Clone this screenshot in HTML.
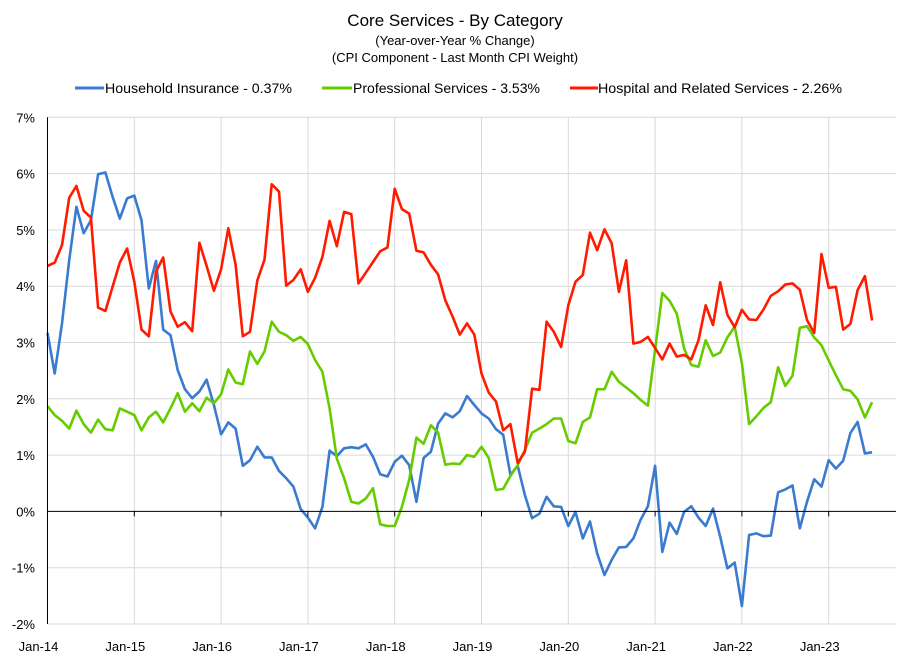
<!DOCTYPE html>
<html><head><meta charset="utf-8"><style>
body{margin:0;background:#fff;font-family:"Liberation Sans",sans-serif}
svg{display:block}
</style></head><body>
<svg id="chart" width="910" height="661">
<text x="455" y="26" text-anchor="middle" font-size="17">Core Services  - By Category</text>
<text x="455" y="45" text-anchor="middle" font-size="13">(Year-over-Year % Change)</text>
<text x="455" y="62" text-anchor="middle" font-size="13">(CPI Component - Last Month CPI Weight)</text>
<g id="grid"></g><g id="series"></g><g id="axes"></g>
<g>
<line x1="75" y1="88" x2="104" y2="88" stroke="#3a7bd0" stroke-width="3"/>
<text x="105" y="93" font-size="14" textLength="187" lengthAdjust="spacingAndGlyphs">Household Insurance - 0.37%</text>
<line x1="322" y1="88" x2="352" y2="88" stroke="#66cc00" stroke-width="3"/>
<text x="353" y="93" font-size="14" textLength="187" lengthAdjust="spacingAndGlyphs">Professional Services - 3.53%</text>
<line x1="570" y1="88" x2="598" y2="88" stroke="#ff1a00" stroke-width="3"/>
<text x="598" y="93" font-size="14" textLength="244" lengthAdjust="spacingAndGlyphs">Hospital and Related Services - 2.26%</text>
</g>
</svg>
<script>
const yTicks=[7,6,5,4,3,2,1,0,-1,-2];
const yearLabels=["Jan-14","Jan-15","Jan-16","Jan-17","Jan-18","Jan-19","Jan-20","Jan-21","Jan-22","Jan-23"];
const householdInsurance=[3.17,2.45,3.34,4.46,5.41,4.94,5.17,5.99,6.02,5.59,5.20,5.56,5.61,5.17,3.96,4.45,3.23,3.13,2.51,2.17,2.01,2.13,2.34,1.89,1.37,1.58,1.47,0.81,0.91,1.15,0.96,0.96,0.72,0.59,0.44,0.04,-0.11,-0.30,0.08,1.08,0.98,1.12,1.14,1.12,1.19,0.97,0.66,0.62,0.88,0.99,0.82,0.17,0.95,1.06,1.56,1.74,1.67,1.78,2.05,1.89,1.74,1.65,1.46,1.36,0.65,0.81,0.29,-0.12,-0.04,0.26,0.09,0.08,-0.26,-0.01,-0.48,-0.18,-0.75,-1.13,-0.86,-0.64,-0.63,-0.48,-0.15,0.09,0.81,-0.72,-0.20,-0.40,-0.01,0.09,-0.11,-0.26,0.05,-0.45,-1.01,-0.91,-1.68,-0.42,-0.39,-0.44,-0.43,0.34,0.39,0.46,-0.30,0.17,0.57,0.44,0.91,0.76,0.90,1.39,1.59,1.03,1.05];
const professionalServices=[1.87,1.71,1.61,1.47,1.79,1.55,1.40,1.63,1.46,1.44,1.83,1.77,1.71,1.44,1.67,1.77,1.58,1.83,2.10,1.77,1.92,1.78,2.02,1.92,2.08,2.52,2.29,2.26,2.84,2.62,2.84,3.37,3.19,3.13,3.03,3.10,2.97,2.69,2.48,1.83,0.94,0.59,0.17,0.14,0.23,0.41,-0.23,-0.26,-0.26,0.08,0.56,1.31,1.20,1.53,1.40,0.83,0.85,0.84,1.00,0.97,1.15,0.95,0.38,0.40,0.63,0.82,1.09,1.40,1.47,1.55,1.65,1.65,1.25,1.21,1.59,1.67,2.17,2.17,2.48,2.30,2.20,2.10,1.98,1.88,2.87,3.88,3.74,3.51,2.90,2.60,2.57,3.04,2.76,2.82,3.09,3.28,2.63,1.55,1.69,1.84,1.94,2.56,2.23,2.41,3.26,3.29,3.09,2.95,2.68,2.42,2.17,2.14,1.99,1.67,1.94];
const hospitalServices=[4.36,4.42,4.73,5.57,5.78,5.34,5.22,3.62,3.56,3.99,4.42,4.67,4.08,3.23,3.11,4.26,4.51,3.55,3.28,3.36,3.20,4.77,4.36,3.92,4.30,5.03,4.38,3.11,3.19,4.10,4.47,5.81,5.68,4.01,4.11,4.30,3.90,4.15,4.52,5.16,4.71,5.32,5.28,4.05,4.24,4.43,4.62,4.69,5.73,5.37,5.29,4.63,4.60,4.38,4.21,3.75,3.46,3.14,3.34,3.14,2.45,2.11,1.95,1.44,1.55,0.86,1.06,2.18,2.16,3.37,3.19,2.92,3.66,4.08,4.20,4.95,4.64,5.01,4.76,3.90,4.46,2.98,3.01,3.10,2.90,2.70,2.98,2.75,2.78,2.70,3.04,3.66,3.31,4.07,3.49,3.27,3.58,3.41,3.40,3.59,3.83,3.91,4.03,4.05,3.94,3.40,3.17,4.57,3.97,3.99,3.23,3.33,3.93,4.18,3.39];

const NS="http://www.w3.org/2000/svg";
const X0=47.5,MSTEP=86.8/12,XR=896,Y7=117.3,PER=56.3;
const xs=i=>X0+MSTEP*i;
const ys=v=>Y7+(7-v)*PER;
function mk(tag,attrs,parent){const e=document.createElementNS(NS,tag);for(const k in attrs)e.setAttribute(k,attrs[k]);parent.appendChild(e);return e;}
const grid=document.getElementById('grid'),axes=document.getElementById('axes'),ser=document.getElementById('series');
yTicks.forEach(t=>{
  const y=ys(t);
  if(t!==0){const l=mk('line',{x1:X0,x2:XR,y1:y,y2:y,stroke:'#d9d9d9','stroke-width':1},grid);
  
  }
  const tx=mk('text',{x:35,y:y+5,'text-anchor':'end','font-size':13},axes);
  tx.textContent=t+'%';
  
  
});
yearLabels.forEach((lab,k)=>{
  const x=xs(k*12);
  if(k>0){const l=mk('line',{x1:x,x2:x,y1:Y7,y2:ys(-2),stroke:'#d9d9d9','stroke-width':1},grid);
  
  }
  mk('line',{x1:x,x2:x,y1:ys(0),y2:ys(0)+5,stroke:'#000'},axes);
  const tx=mk('text',{x:x-9,y:651,'text-anchor':'middle','font-size':13},axes);
  tx.textContent=lab;
  
  
});
mk('line',{x1:X0,x2:X0,y1:Y7,y2:ys(-2),stroke:'#000'},axes);
const zl=mk('line',{x1:X0,x2:XR,y1:ys(0),y2:ys(0),stroke:'#000'},axes);


[[householdInsurance,'#3a7bd0','household-insurance-line'],[professionalServices,'#66cc00','professional-services-line'],[hospitalServices,'#ff1a00','hospital-services-line']].forEach(([d,c,n])=>{
  const p=mk('polyline',{points:d.map((v,i)=>xs(i).toFixed(1)+','+ys(v).toFixed(1)).join(' '),fill:'none',stroke:c,'stroke-width':2.6,'stroke-linejoin':'round'},ser);
  
  
});
</script>
</body></html>
